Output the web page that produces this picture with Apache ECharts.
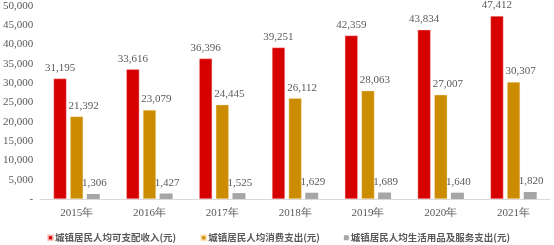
<!DOCTYPE html>
<html><head><meta charset="utf-8">
<script src="https://cdn.jsdelivr.net/npm/echarts@6/dist/echarts.min.js"></script>
<style>html,body{margin:0;padding:0;background:#fff}#c{width:554px;height:245px}</style>
</head><body><div id="c"></div>
<script>
const categories = ['2015年','2016年','2017年','2018年','2019年','2020年','2021年'];
const income = [31195, 33616, 36396, 39251, 42359, 43834, 47412];
const consumption = [21392, 23079, 24445, 26112, 28063, 27007, 30307];
const dailyGoods = [1306, 1427, 1525, 1629, 1689, 1640, 1820];
const seriesNames = ['城镇居民人均可支配收入(元)', '城镇居民人均消费支出(元)', '城镇居民人均生活用品及服务支出(元)'];

const chart = echarts.init(document.getElementById('c'));
const fmt = v => v === 0 ? '-' : v.toLocaleString('en-US');
const lbl = (dx) => ({
  show: true, position: 'top', distance: 5, offset: [dx, 0],
  fontFamily: 'Liberation Serif', fontSize: 11, color: '#595959',
  formatter: p => p.value.toLocaleString('en-US')
});
chart.setOption({
  animation: false,
  grid: { left: 37, right: 4, top: 6, bottom: 46 },
  legend: {
    top: 228, left: 42, itemWidth: 5, itemHeight: 5, itemGap: 24,
    icon: 'rect',
    textStyle: { fontFamily: 'Noto Sans CJK SC', fontSize: 9.5, color: '#595959', fontWeight: 'bold', padding: [0,0,0,-3] },
    data: seriesNames
  },
  xAxis: {
    type: 'category', data: categories,
    axisLine: { lineStyle: { color: '#d9d9d9' } },
    axisTick: { show: false },
    axisLabel: { fontFamily: 'Liberation Serif', fontSize: 11, color: '#595959', margin: 9 }
  },
  yAxis: {
    type: 'value', min: 0, max: 50000, interval: 5000,
    splitLine: { show: false },
    axisLine: { show: false }, axisTick: { show: false },
    axisLabel: { fontFamily: 'Liberation Serif', fontSize: 11, color: '#595959', margin: 7, formatter: fmt }
  },
  series: [
    { name: seriesNames[0], type: 'bar', data: income, barWidth: 13, barGap: '28%',
      itemStyle: { color: '#d60000', borderColor: 'rgba(255,200,200,0.8)', borderWidth: 0.5 }, label: lbl(0) },
    { name: seriesNames[1], type: 'bar', data: consumption, barWidth: 13, barGap: '28%',
      itemStyle: { color: '#cc8c00', borderColor: 'rgba(255,230,190,0.8)', borderWidth: 0.5 }, label: lbl(7) },
    { name: seriesNames[2], type: 'bar', data: dailyGoods, barWidth: 13, barGap: '28%',
      itemStyle: { color: '#a6a6a6' }, label: lbl(1) }
  ]
});
</script></body></html>
